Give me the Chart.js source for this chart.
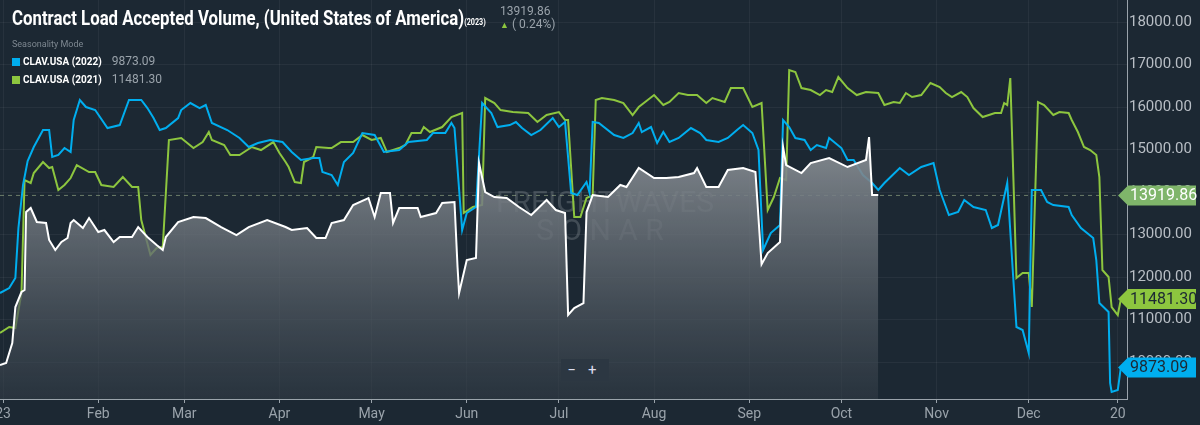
<!DOCTYPE html>
<html>
<head>
<meta charset="utf-8">
<script src="https://cdn.jsdelivr.net/npm/chart.js@4.4.0/dist/chart.umd.min.js"></script>
<style>
  html, body { margin: 0; padding: 0; background: #1c2833; }
  #wrap { position: relative; width: 1200px; height: 425px; font-family: Roboto, sans-serif; }
  canvas { position: absolute; left: 0; top: 0; }
  .title { position: absolute; left: 12px; top: 6px; color: #fff; font-weight: 700; font-size: 21px;
           transform: scaleX(0.8); transform-origin: left top; white-space: nowrap; }
  .title small { font-size: 9px; }
  .last { position: absolute; left: 500px; top: 5px; color: #9aa3ab; font-size: 12px; line-height: 13px; }
  .last b { color: #8dc63f; font-size: 9px; }
  .mode { position: absolute; left: 12px; top: 39px; color: #7d8790; font-size: 9px; }
  .leg { position: absolute; left: 12px; font-size: 10px; color: #fff; font-weight: 700; white-space: nowrap; }
  .leg i { display: inline-block; width: 8px; height: 8px; margin-right: 3px; vertical-align: -1px; }
  .leg span { color: #9aa3ab; font-weight: 400; font-size: 12px; margin-left: 10px; }
  .zoom { position: absolute; left: 561px; top: 359px; width: 48px; height: 22px; background: #2c3742; color: #dde; 
          font-size: 15px; text-align: center; line-height: 22px; letter-spacing: 12px; padding-left: 6px; box-sizing: border-box; }
</style>
</head>
<body>
<div id="wrap">
  <canvas id="c" width="1200" height="425"></canvas>
  <div class="title">Contract Load Accepted Volume, (United States of America)<small>(2023)</small></div>
  <div class="last">13919.86<br><b>&#9650;</b> ( 0.24%)</div>
  <div class="mode">Seasonality Mode</div>
  <div class="leg" style="top:54px"><i style="background:#00aeef"></i>CLAV.USA (2022)<span>9873.09</span></div>
  <div class="leg" style="top:72px"><i style="background:#8dc63f"></i>CLAV.USA (2021)<span>11481.30</span></div>
  <div class="zoom">−+</div>
</div>
<script>
// day of year (0 = Jan 1) and values
const monthTicks = [0, 31, 59, 90, 120, 151, 181, 212, 243, 273, 304, 334, 363];
const monthLabels = ["23", "Feb", "Mar", "Apr", "May", "Jun", "Jul", "Aug", "Sep", "Oct", "Nov", "Dec", "20"];
const valueTicks = [10000, 11000, 12000, 13000, 14000, 15000, 16000, 17000, 18000];

const days2023 = [-1,1,3,4,6,7,7.5,9,11,14,15,17,19,21,22,23,26,28,31,33,36,38,42,44,47,50,52,53,57,62,66,71,76,80,86,92,94,99,102,105,107,111,114,119,121,123,126,127,129,135,136,141,143,147,148,148.5,151,154,155,157,160,164,168,172,177,180,183,184,186,189,190,192,197,201,203,207,212,216,220,225,226,229,233,236,241,245,247,249,253,254,255,260,263,269,275,281,282,283,285];
const vals2023 = [9929,9976,10447,11294,11647,11694,13529,13624,13294,13271,12871,12635,12824,12918,13271,13341,13153,13388,13059,13106,12824,12941,12941,13176,12941,12753,12635,12941,13294,13412,13388,13176,12988,13176,13341,13176,13106,13153,12918,12918,13271,13341,13694,13859,13412,13976,13976,13271,13624,13624,13412,13506,13741,13765,12235,11624,12400,12447,14682,14000,13882,13859,13647,13459,13812,13576,13506,11106,11271,11388,13529,13929,13882,14165,14118,14565,14329,14329,14353,14447,14565,14118,14118,14518,14565,14471,12300,12565,12824,15059,14635,14447,14682,14800,14588,14753,15294,13929,13929];

const days2022 = [-1,2,4,5,6.5,8,10,13,15,16,18,20,22,23,25,27,30,34,38,41,45,47,49,51,53,57,58,61,64,66,68,73,77,80,83,87,91,94,97,101,103,104,107,109,111,114,117,121,124,129,132,138,140,144,146,147,149.5,151,154,156,159,161,165,167,169,172,175,179,181,183,185,187,190,191,192,194,199,202,205,207,208,211,213,215,217,220,224,227,229,233,236,239,241,244,246,247.5,250,253,254,256,258,261,263,265,268,269,273,275,277,280,283,285,287,292,295,299,303,305,308,311,313,316,320,322,324,327,329,330,332,334,335,338,340,342,347,348,351,353,355,356,357,360,360.5,361,363,364];
const vals2022 = [11624,11741,11976,13153,14165,14729,15059,15459,15459,14824,14871,15035,14941,15694,16165,16000,15929,15506,15576,16165,16165,15976,15741,15459,15506,15741,15929,16094,15976,16047,15624,15459,15271,15059,15153,15224,15176,14941,14753,14800,14800,14471,14400,14165,14706,14918,15388,15341,14941,14988,15176,15224,15388,15388,15624,15506,13106,13506,13647,16094,15859,15529,15576,15647,15506,15341,15459,15741,15529,15647,13976,13929,14235,13976,15647,15624,15341,15271,15388,15624,15412,15529,15153,15412,15176,15271,15506,15388,15224,15176,15271,15459,15576,15388,14988,12635,13035,13224,15694,15529,15271,15224,14988,15106,15035,15271,15035,14753,14753,14400,14212,14047,14212,14565,14400,14588,14682,14047,13459,13529,13812,13647,13576,13153,13224,14212,11929,10824,10753,10212,14047,14047,13765,13694,13647,13459,13153,13035,12918,12400,11388,11176,9506,9294,9341,9873];

const days2021 = [-1,2,4,6,7,9,10,13,15,16,18,20,22,24,28,30,32,36,39,42,44,45,48,50,52,54,58,62,65,67,68,72,74,77,81,84,88,90,92,93,95,97,98,101,102,106,107,110,114,117,120,123,125,129,131,133,136,137,139,143,146,149.5,150,153,156,157,160,162,166,171,174,177,181,183,184,186,188,190,192,193,195,199,202,205,207,212,215,217,220,223,226,229,231,235,237,241,244,247,249,251,253,255,256,258,260,263,266,268,270,272,275,278,281,285,287,290,292,294,296,299,302,305,307,309,312,314,316,319,323,325,326,327,328,330,332,334,335,337,339,342,344,347,348,350,352,354,356,357,358,360,361,363,364];
const vals2021 = [10682,10824,10800,11624,14282,14212,14447,14706,14565,14588,14047,14165,14329,14635,14471,14471,14165,14118,14353,14118,14118,13341,12518,12682,12706,15224,15271,15035,15176,15412,15224,15106,14871,14871,15059,14988,15176,14918,14706,14588,14235,14212,14706,14824,15059,15035,15035,15176,15176,15341,15224,15271,14941,15035,15106,15388,15388,15529,15412,15529,15765,15859,13506,13647,13694,16212,16094,15929,15882,15859,15647,15812,15882,15694,15694,13412,13412,13859,13929,16165,16212,16165,16094,15812,16000,16282,16047,16118,16329,16282,16282,16094,16212,16118,16447,16447,16000,16094,13576,13882,14329,14282,16871,16824,16447,16400,16282,16400,16353,16706,16447,16282,16353,16329,16047,16118,16094,16329,16235,16282,16565,16471,16329,16235,16353,16235,15976,15765,15859,15859,16094,16047,16682,11976,12094,12094,11294,16118,16047,15812,15882,15859,15694,15412,15059,14988,14871,14353,12165,12000,11294,11106,11481];

const pts = (d, v) => d.map((x, i) => ({ x, y: v[i] }));

const tags = [
  { value: 13919.86, text: "13919.86", bg: "#7fb56a" },
  { value: 11481.30, text: "11481.30", bg: "#8dc63f", fg: "#1c2833" },
  { value: 9873.09, text: "9873.09", bg: "#00aeef", fg: "#1c2833" },
];

const overlay = {
  id: "overlay",
  beforeDatasetsDraw(chart) {
    const { ctx, chartArea: a, scales: { y } } = chart;
    const yy = y.getPixelForValue(13919.86);
    ctx.save();
    ctx.strokeStyle = "rgba(160,180,140,0.6)";
    ctx.setLineDash([4, 4]);
    ctx.beginPath(); ctx.moveTo(a.left, yy); ctx.lineTo(a.right, yy); ctx.stroke();
    ctx.setLineDash([]);
    ctx.textAlign = "center";
    ctx.fillStyle = "rgba(200,205,210,0.22)";
    ctx.font = "30px Roboto";
    ctx.fillText("FREIGHTWAVES", 605, 212);
    ctx.fillText("S O N A R", 600, 240);
    ctx.restore();
  },
  afterDraw(chart) {
    const { ctx, chartArea: a, scales: { y } } = chart;
    ctx.save();
    ctx.font = "16px Roboto";
    ctx.textBaseline = "middle";
    tags.forEach((t) => {
      const yy = y.getPixelForValue(t.value);
      const x0 = a.right - 9;
      ctx.fillStyle = t.bg;
      ctx.beginPath();
      ctx.moveTo(x0, yy);
      ctx.lineTo(x0 + 10, yy - 10);
      ctx.lineTo(1196, yy - 10);
      ctx.lineTo(1196, yy + 10);
      ctx.lineTo(x0 + 10, yy + 10);
      ctx.closePath();
      ctx.fill();
      ctx.fillStyle = t.fg || "#ffffff";
      ctx.fillText(t.text, x0 + 12, yy + 1);
    });
    ctx.restore();
  },
};

new Chart(document.getElementById("c"), {
  type: "line",
  data: {
    datasets: [
      { label: "CLAV.USA (2023)", data: pts(days2023, vals2023), borderColor: "#ffffff", borderWidth: 2,
        pointRadius: 0, tension: 0, fill: "start",
        backgroundColor: (c) => {
          const a = c.chart.chartArea;
          if (!a) return "rgba(120,126,132,0.7)";
          const g = c.chart.ctx.createLinearGradient(0, a.top + 150, 0, a.bottom);
          g.addColorStop(0, "rgba(135,141,147,0.92)");
          g.addColorStop(1, "rgba(50,60,70,0.6)");
          return g;
        } },
      { label: "CLAV.USA (2022)", data: pts(days2022, vals2022), borderColor: "#00aeef", borderWidth: 2, pointRadius: 0, tension: 0 },
      { label: "CLAV.USA (2021)", data: pts(days2021, vals2021), borderColor: "#8dc63f", borderWidth: 2, pointRadius: 0, tension: 0 },
    ],
  },
  options: {
    responsive: false,
    animation: false,
    layout: { padding: 0 },
    plugins: { legend: { display: false }, tooltip: { enabled: false } },
    scales: {
      x: {
        type: "linear", min: -1, max: 366,
        afterBuildTicks: (s) => { s.ticks = monthTicks.map((v) => ({ value: v })); },
        afterFit: (s) => { s.height = 26; s.paddingLeft = 0; s.paddingRight = 0; },
        ticks: { color: "#9aa3ab", font: { family: "Roboto", size: 14 }, maxRotation: 0, autoSkip: false,
                 callback: (v) => monthLabels[monthTicks.indexOf(v)] },
        grid: { color: "rgba(255,255,255,0.05)", tickLength: 4, tickColor: "#9aa3ab" },
        border: { color: "#9aa3ab" },
      },
      y: {
        position: "right", min: 9130, max: 18518,
        afterBuildTicks: (s) => { s.ticks = valueTicks.map((v) => ({ value: v })); },
        afterFit: (s) => { s.width = 73; s.paddingTop = 0; s.paddingBottom = 0; },
        ticks: { color: "#b8bec5", font: { family: "Roboto", size: 15 }, padding: 2,
                 callback: (v) => v.toFixed(2) },
        grid: { color: "rgba(255,255,255,0.05)", drawTicks: false },
        border: { color: "#9aa3ab" },
      },
    },
  },
  plugins: [overlay],
});
</script>
</body>
</html>
